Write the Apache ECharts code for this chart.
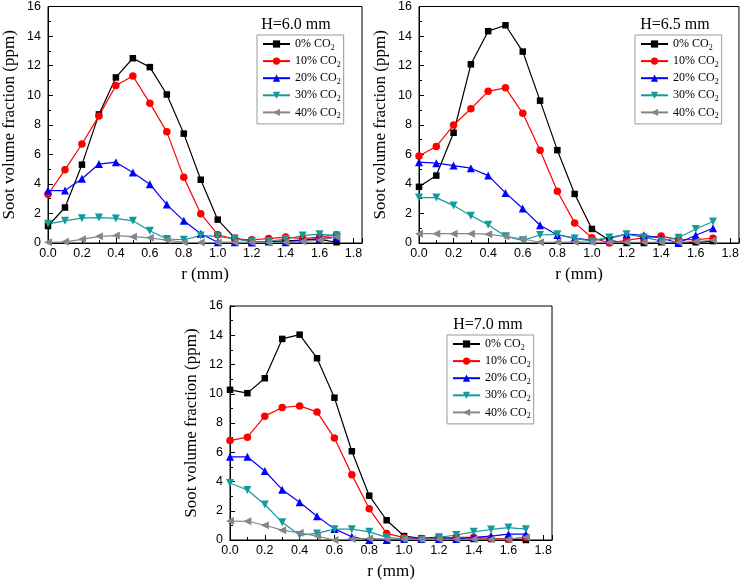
<!DOCTYPE html>
<html>
<head>
<meta charset="utf-8">
<script src="https://cdn.jsdelivr.net/npm/echarts@6/dist/echarts.min.js"></script>
<style>
html,body{margin:0;padding:0;background:#fff;}
#chart{width:742px;height:581px;}
</style>
</head>
<body>
<div id="chart"></div>
<script>
// ---- data ----
const rValues = [0.0,0.1,0.2,0.3,0.4,0.5,0.6,0.7,0.8,0.9,1.0,1.1,1.2,1.3,1.4,1.5,1.6,1.7];
const seriesNames = ['0% CO2','10% CO2','20% CO2','30% CO2','40% CO2'];
const panelTitles = ['H=6.0 mm','H=6.5 mm','H=7.0 mm'];
const xTickLabels = ['0.0','0.2','0.4','0.6','0.8','1.0','1.2','1.4','1.6','1.8'];
const yTickLabels = ['0','2','4','6','8','10','12','14','16'];

// H = 6.0 mm
const h60_co2_0  = [1.15,2.4,5.3,8.7,11.2,12.5,11.9,10.05,7.4,4.28,1.58,0.35,0.07,0.1,0.15,0.2,0.25,0.05];
const h60_co2_10 = [3.3,4.95,6.7,8.6,10.65,11.3,9.46,7.52,4.44,1.98,0.56,0.27,0.22,0.3,0.4,0.3,0.4,0.55];
const h60_co2_20 = [3.55,3.55,4.35,5.34,5.47,4.77,3.98,2.6,1.5,0.62,0.05,0.05,0.03,0.1,0.05,0.2,0.3,0.4];
const h60_co2_30 = [1.3,1.5,1.68,1.72,1.66,1.5,0.83,0.27,0.22,0.5,0.45,0.27,0.1,0.12,0.27,0.5,0.6,0.5];
const h60_co2_40 = [0.05,0.08,0.25,0.45,0.5,0.43,0.35,0.2,0.05,0.03,0.03,0.03,0.03,0.03,0.05,0.1,0.2,0.4];

// H = 6.5 mm
const h65_co2_0  = [3.8,4.56,7.46,12.09,14.33,14.73,12.95,9.63,6.28,3.32,0.95,0.18,0.0,0.0,0.05,0.0,0.05,0.13];
const h65_co2_10 = [5.88,6.53,7.98,9.08,10.26,10.5,8.77,6.28,3.5,1.36,0.36,0.0,0.18,0.36,0.47,0.23,0.23,0.32];
const h65_co2_20 = [5.47,5.4,5.24,5.06,4.56,3.39,2.33,1.2,0.54,0.34,0.18,0.32,0.6,0.52,0.34,0.0,0.52,1.0];
const h65_co2_30 = [3.07,3.07,2.53,1.85,1.24,0.45,0.18,0.54,0.59,0.3,0.14,0.38,0.59,0.38,0.14,0.36,0.95,1.45];
const h65_co2_40 = [0.63,0.63,0.63,0.63,0.6,0.45,0.27,0.05,0.05,0.07,0.05,0.05,0.05,0.05,0.05,0.05,0.1,0.18];

// H = 7.0 mm
const h70_co2_0  = [10.27,10.04,11.06,13.75,14.04,12.43,9.73,6.07,3.03,1.35,0.27,0.11,0.2,0.07,0.07,0.07,0.05,0.0];
const h70_co2_10 = [6.8,7.03,8.47,9.06,9.17,8.76,6.97,4.47,2.13,0.45,0.16,0.11,0.11,0.18,0.18,0.11,0.07,0.18];
const h70_co2_20 = [5.69,5.69,4.72,3.44,2.58,1.62,0.76,0.22,0.0,0.0,0.07,0.07,0.07,0.07,0.18,0.27,0.4,0.4];
const h70_co2_30 = [3.9,3.42,2.43,1.21,0.34,0.45,0.74,0.74,0.56,0.18,0.07,0.0,0.18,0.34,0.56,0.72,0.85,0.74];
const h70_co2_40 = [1.3,1.28,1.01,0.67,0.49,0.27,0.0,0.07,0.11,0.07,0.05,0.05,0.05,0.05,0.05,0.05,0.05,0.18];

const panelData = [
  [h60_co2_0,h60_co2_10,h60_co2_20,h60_co2_30,h60_co2_40],
  [h65_co2_0,h65_co2_10,h65_co2_20,h65_co2_30,h65_co2_40],
  [h70_co2_0,h70_co2_10,h70_co2_20,h70_co2_30,h70_co2_40]
];

// ---- styles ----
const colors = ['#000000','#ff0000','#0000ff','#139b9b','#858590'];
const symbols = ['rect','circle','triangle','triangle','triangle'];
const symbolRotates = [0,0,0,180,90];
const symbolSizes = [6.5,7.5,8,8,8];
const grids = [
  {left:41, top:6, width:321, height:237},
  {left:419, top:6, width:321, height:237},
  {left:230, top:306, width:322, height:237}
];
const legendPos = [{left:257, top:35},{left:635, top:35},{left:447, top:335}];
const titlePos = [[296,25],[675,25],[488,325]];

const serif = "'Liberation Serif','Times New Roman',serif";
const sans = "'Liberation Sans',Arial,sans-serif";

const option = {
  animation:false,
  backgroundColor:'#fff',
  grid: grids.map(g => Object.assign({show:true, borderColor:'#000', borderWidth:1, containLabel:false}, g)),
  xAxis: grids.map((g,i) => ({
    type:'value', gridIndex:i, min:0, max:1.85, interval:0.2,
    name:'r (mm)', nameLocation:'middle', nameGap:23,
    nameTextStyle:{fontFamily:serif, fontSize:17, color:'#000'},
    axisLine:{show:true, onZero:false, lineStyle:{color:'#000', width:1}},
    axisTick:{show:true, inside:true, length:5, lineStyle:{color:'#000'}},
    minorTick:{show:true, splitNumber:2, length:3, lineStyle:{color:'#000'}},
    splitLine:{show:false},
    axisLabel:{fontFamily:sans, fontSize:12.5, color:'#000', margin:4, showMaxLabel:false,
      formatter: v => { const idx = Math.round(v/0.2); return Math.abs(v - idx*0.2) < 1e-6 ? (xTickLabels[idx] || '') : ''; }}
  })),
  yAxis: grids.map((g,i) => ({
    type:'value', gridIndex:i, min:0, max:16, interval:2,
    name:'Soot volume fraction (ppm)', nameLocation:'middle', nameGap:30, nameRotate:90,
    nameTextStyle:{fontFamily:serif, fontSize:17, color:'#000'},
    axisLine:{show:true, lineStyle:{color:'#000', width:1}},
    axisTick:{show:true, inside:true, length:5, lineStyle:{color:'#000'}},
    minorTick:{show:true, splitNumber:2, length:3, lineStyle:{color:'#000'}},
    splitLine:{show:false},
    axisLabel:{fontFamily:sans, fontSize:12.5, color:'#000', margin:7,
      formatter: v => yTickLabels[Math.round(v/2)] || ''}
  })),
  legend: legendPos.map((p,i) => ({
    orient:'vertical', left:p.left, top:p.top,
    data: seriesNames,
    itemWidth:27, itemHeight:9, itemGap:3.6,
    borderColor:'#999', borderWidth:1, padding:[3,3,4,5],
    backgroundColor:'#fff',
    selectedMode:false,
    formatter: name => '{m|' + name.replace('CO2','CO') + '}{s|2}',
    textStyle:{fontFamily:serif, fontSize:12, color:'#000',
      rich:{ m:{fontFamily:serif, fontSize:12, color:'#000'},
             s:{fontFamily:serif, fontSize:8, color:'#000', padding:[7,0,0,0]} }}
  })),
  graphic: titlePos.map((p,i) => ({
    type:'text', x:p[0], y:p[1],
    style:{text:panelTitles[i], fontFamily:serif, fontSize:16, fill:'#000', textAlign:'center', textVerticalAlign:'middle'}
  })),
  series: []
};

panelData.forEach((arrs, pi) => {
  arrs.forEach((vals, si) => {
    option.series.push({
      type:'line', name:seriesNames[si], xAxisIndex:pi, yAxisIndex:pi,
      data: rValues.map((r,k) => [r, vals[k]]),
      symbol:symbols[si], symbolRotate:symbolRotates[si], symbolSize:symbolSizes[si],
      showAllSymbol:true,
      lineStyle:{color:colors[si], width:1.2},
      itemStyle:{color:colors[si]},
      emphasis:{disabled:true}
    });
  });
});

const chart = echarts.init(document.getElementById('chart'), null, {renderer:'canvas'});
chart.setOption(option);
</script>
</body>
</html>
